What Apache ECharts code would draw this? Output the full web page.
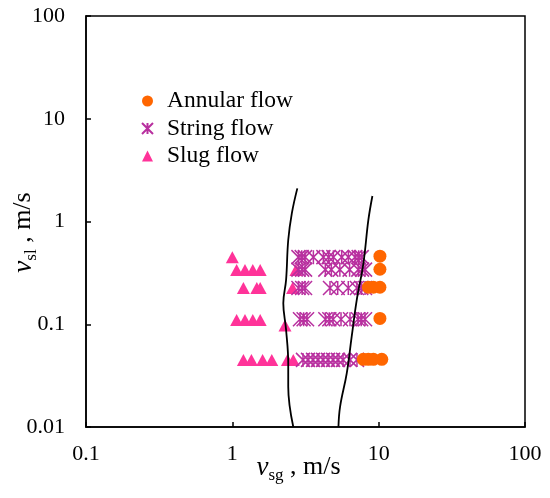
<!doctype html>
<html lang="en">
  <head>
    <meta charset="UTF-8" />
    <title>flow pattern map</title>
    <script src="https://cdn.jsdelivr.net/npm/echarts@6/dist/echarts.min.js"></script>
    <style>
      * { margin: 0; padding: 0; }
      html, body, #chart { width: 550px; height: 498px; overflow: hidden; background: #fff; }
    </style>
  </head>
  <body>
    <div id="chart"></div>
    <script>
      // [vsg, vsl] pairs, m/s
      const annular = [
        [10.2, 0.46], [10.2, 0.343],
        [8.5, 0.229], [9.2, 0.229], [10.2, 0.229],
        [10.2, 0.114],
        [7.85, 0.0456], [8.5, 0.0456], [9.2, 0.0456], [10.5, 0.0456]
      ];
      const stringRowA = [2.83, 2.98, 3.14, 3.58, 4.19, 4.55, 4.9, 5.59, 6.21, 6.9, 7.3, 7.66];
      const stringRowB = [2.83, 3.0, 3.14, 4.32, 4.75, 5.43, 6.33, 7.26, 7.7, 8.07];
      const stringRowC = [2.83, 3.0, 3.14, 4.65, 5.25, 6.2, 7.1, 7.6, 8.07];
      const stringRowD = [2.9, 3.07, 3.24, 4.32, 4.6, 4.88, 5.53, 6.37, 7.22, 7.6, 8.07];
      const stringRowE = [3.04, 3.29, 3.56, 3.85, 4.17, 4.51, 4.88, 5.27, 5.71, 6.37, 7.11];
      const rowVsl = [0.45, 0.34, 0.225, 0.112, 0.045];
      const slug = [
        [1.0, 0.45],
        [1.07, 0.337], [1.22, 0.337], [1.38, 0.337], [1.55, 0.337], [2.72, 0.337],
        [1.19, 0.225], [1.47, 0.225], [1.55, 0.225], [2.58, 0.225],
        [1.07, 0.11], [1.22, 0.11], [1.38, 0.11], [1.55, 0.11], [2.29, 0.097],
        [1.19, 0.045], [1.35, 0.045], [1.61, 0.045], [1.86, 0.045], [2.38, 0.045], [2.61, 0.045]
      ];
      // transition boundaries
      const boundaryLeft = [
        [2.61, 0.01], [2.41, 0.0247], [2.41, 0.0417], [2.33, 0.088], [2.23, 0.16],
        [2.33, 0.27], [2.41, 0.66], [2.55, 1.2], [2.78, 2.1]
      ];
      const boundaryRight = [
        [5.31, 0.01], [5.45, 0.0158], [6.05, 0.0333], [6.54, 0.0757], [7.08, 0.172],
        [7.86, 0.39], [8.5, 1.03], [9.06, 1.77]
      ];

      const stringFlow = [stringRowA, stringRowB, stringRowC, stringRowD, stringRowE]
        .flatMap((row, i) => row.map((x) => [x, rowVsl[i]]));

      const font = 'Liberation Serif';
      const asterisk = 'path://M0,0L10,10M10,0L0,10M5,0L5,10';
      const axisName = (sub) => '{i|v}{s|' + sub + '}{n| , m/s}';
      const nameRich = {
        i: { fontFamily: font, fontStyle: 'italic', fontSize: 27, color: '#000' },
        s: { fontFamily: font, fontSize: 17, color: '#000', padding: [16, 0, 0, 0] },
        n: { fontFamily: font, fontSize: 26, color: '#000' }
      };
      const fmt = (v) => String(+v.toFixed(2));

      const chart = echarts.init(document.getElementById('chart'));
      chart.setOption({
        animation: false,
        backgroundColor: '#fff',
        grid: {
          left: 86, right: 25, top: 16, bottom: 71,
          outerBoundsMode: 'none',
          containLabel: false,
          show: true, borderColor: '#000', borderWidth: 1.5
        },
        legend: {
          data: ['Annular flow', 'String flow', 'Slug flow'],
          orient: 'vertical',
          left: 136,
          top: 84,
          itemWidth: 11,
          itemHeight: 11,
          itemGap: 3.5,
          textStyle: { fontFamily: font, fontSize: 23.5, color: '#000', lineHeight: 24, padding: [0, 0, 0, 9] }
        },
        xAxis: {
          type: 'log', logBase: 10, min: 0.1, max: 100,
          splitLine: { show: false },
          axisLine: { lineStyle: { color: '#000', width: 1.5 } },
          axisTick: { inside: true, length: 5, lineStyle: { color: '#000', width: 1.5 } },
          axisLabel: { fontFamily: font, fontSize: 22, color: '#000', margin: 16, formatter: fmt },
          name: axisName('sg'),
          nameLocation: 'middle',
          nameGap: 24,
          nameMoveOverlap: false,
          nameTextStyle: { fontFamily: font, fontSize: 26, color: '#000', padding: [0, 14, 0, 0], rich: nameRich }
        },
        yAxis: {
          type: 'log', logBase: 10, min: 0.01, max: 100,
          splitLine: { show: false },
          axisLine: { lineStyle: { color: '#000', width: 1.5 } },
          axisTick: { inside: true, length: 5, lineStyle: { color: '#000', width: 1.5 } },
          axisLabel: { fontFamily: font, fontSize: 22, color: '#000', margin: 21, formatter: fmt },
          name: axisName('sl'),
          nameLocation: 'middle',
          nameGap: 46,
          nameMoveOverlap: false,
          nameTextStyle: { fontFamily: font, fontSize: 26, color: '#000', padding: [0, 22, 0, 0], rich: nameRich }
        },
        series: [
          {
            name: 'Slug flow', type: 'scatter', data: slug,
            symbol: 'triangle', symbolSize: [13, 12],
            itemStyle: { color: '#FF3399', opacity: 1 }
          },
          {
            name: 'String flow', type: 'scatter', data: stringFlow,
            symbol: asterisk, symbolSize: 14,
            itemStyle: { color: 'rgba(0,0,0,0)', borderColor: '#B8309F', borderWidth: 1.5, opacity: 1 }
          },
          {
            name: 'Annular flow', type: 'scatter', data: annular,
            symbol: 'circle', symbolSize: 13,
            itemStyle: { color: '#FF6600', opacity: 1 }
          },
          {
            name: 'left boundary', type: 'line', data: boundaryLeft,
            smooth: 0.4, showSymbol: false, z: 5,
            lineStyle: { color: '#000', width: 1.8 }
          },
          {
            name: 'right boundary', type: 'line', data: boundaryRight,
            smooth: 0.4, showSymbol: false, z: 5,
            lineStyle: { color: '#000', width: 1.8 }
          }
        ]
      });
    </script>
  </body>
</html>
